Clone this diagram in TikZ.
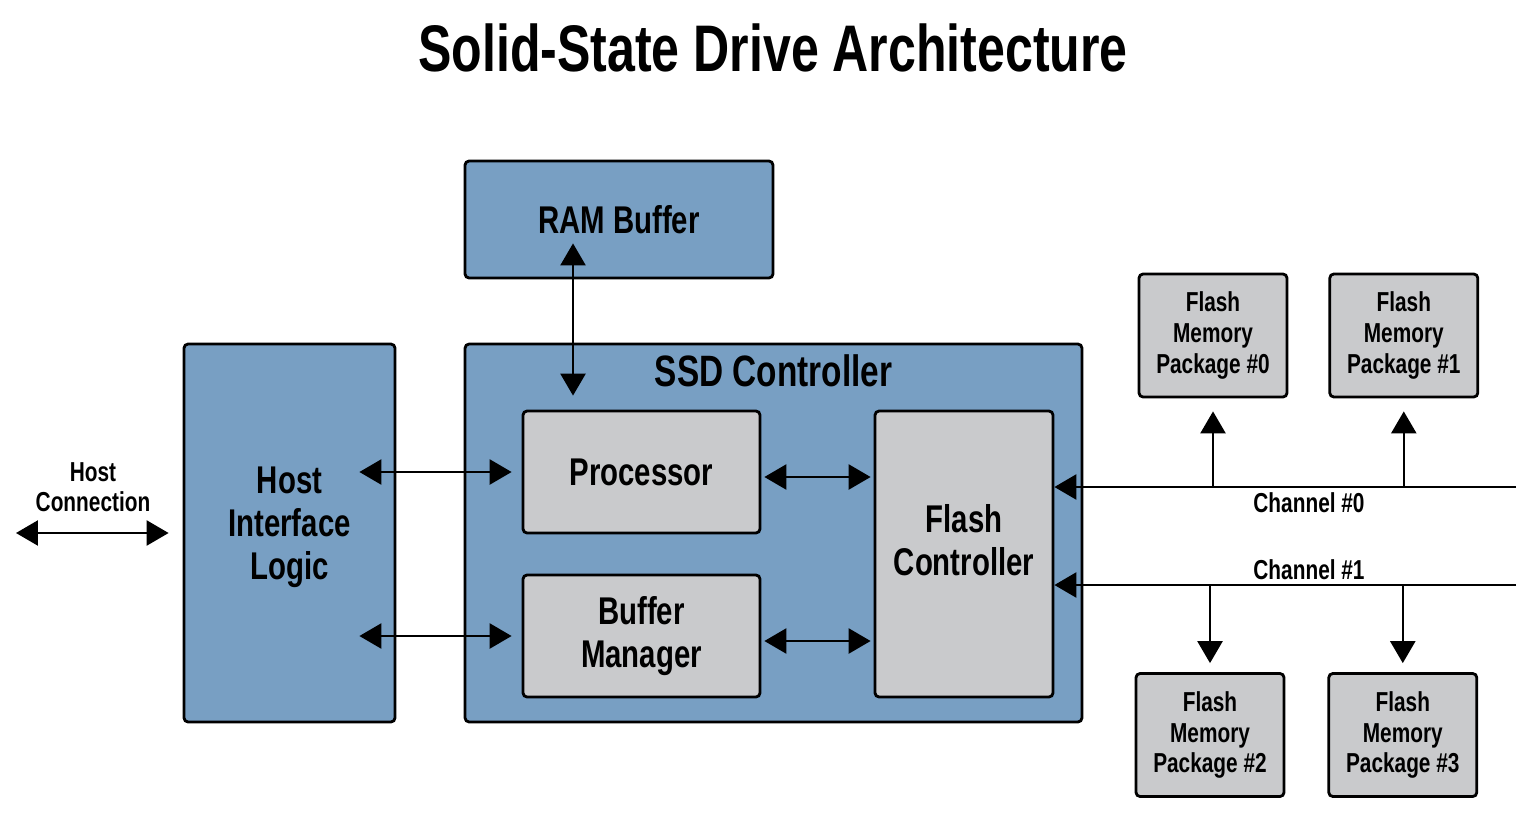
\documentclass[tikz,border=0pt]{standalone}
\usepackage{fontspec}
\newfontfamily\ssdfont{Liberation Sans}[FakeStretch=0.76]
\usetikzlibrary{positioning,arrows.meta}
\definecolor{ssdblue}{HTML}{789FC3}
\definecolor{ssdgray}{HTML}{C9CACC}
\newcommand{\fsz}[2]{\fontsize{#1}{#2}\selectfont}

\begin{document}
\begin{tikzpicture}[
        x=0.02cm, y=-0.02cm,
        every node/.style={font=\ssdfont\bfseries},
        blk/.style={
                draw=black,
                line width=1.6pt,
                rounded corners=0.08cm,
                inner sep=0pt,
                align=center
            },
        bluebox/.style={blk, fill=ssdblue},
        graybox/.style={blk, fill=ssdgray},
        pkg/.style={graybox, minimum width=2.96cm, minimum height=2.46cm,
                font=\ssdfont\bfseries\fsz{15.6}{17.4}},
        lbl/.style={font=\ssdfont\bfseries\fsz{15.6}{17}, align=center},
        tip/.style={-{Triangle[length=0.44cm,width=0.5cm]}, line width=1.4pt},
        dbl/.style={{Triangle[length=0.44cm,width=0.5cm]}-{Triangle[length=0.44cm,width=0.5cm]}, line width=1.4pt}
    ]
    \useasboundingbox (0,0) rectangle (1530,818);

    \node[font=\ssdfont\bfseries\fsz{37.5}{40}] (title) at (773,48) {Solid-State Drive Architecture};

    % main blocks
    \node[bluebox, minimum width=6.16cm, minimum height=2.34cm, font=\ssdfont\bfseries\fsz{22}{24}] (ram) at (619,219.5) {RAM Buffer};
    \node[bluebox, minimum width=4.22cm, minimum height=7.56cm,
        label={[yshift=0.12cm, align=center, font=\ssdfont\bfseries\fsz{22}{24.4}]center:Host\\Interface\\Logic}] (hil) at (289.5,533) {};
    \node[bluebox, minimum width=12.34cm, minimum height=7.56cm,
        label={[below=0.12cm, font=\ssdfont\bfseries\fsz{25}{27}]north:SSD Controller}] (ssd) at (773.5,533) {};
    \node[graybox, minimum width=4.74cm, minimum height=2.44cm, font=\ssdfont\bfseries\fsz{22}{24}] (proc) at (641.5,472) {Processor};
    \node[graybox, minimum width=4.74cm, minimum height=2.44cm, font=\ssdfont\bfseries\fsz{22}{24.4}] (bufm) at (641.5,636) {Buffer\\Manager};
    \node[graybox, minimum width=3.56cm, minimum height=5.72cm,
        label={[yshift=0.28cm, align=center, font=\ssdfont\bfseries\fsz{22}{24.4}]center:Flash\\Controller}] (fc) at (964,554) {};

    % flash packages
    \node[pkg] (fmp0) at (1213,335.5) {Flash\\Memory\\Package \#0};
    \node[pkg] (fmp1) [right=0.80cm of fmp0] {Flash\\Memory\\Package \#1};
    \node[pkg] (fmp2) at (1210,735) {Flash\\Memory\\Package \#2};
    \node[pkg] (fmp3) [right=0.84cm of fmp2] {Flash\\Memory\\Package \#3};

    % host side
    \coordinate (host) at (16,533);
    \node[lbl] (hostlbl) at (93,487.5) {Host\\Connection};
    \draw[dbl, shorten >=0.28cm] (host) -- (host -| hil.west);
    \draw[dbl, shorten <=-0.74cm, shorten >=0.2cm] (hil.east |- proc.west) -- (proc.west);
    \draw[dbl, shorten <=-0.74cm, shorten >=0.2cm] (hil.east |- bufm.west) -- (bufm.west);

    % inside the controller
    \draw[dbl, shorten <=0.06cm, shorten >=0.06cm] ([yshift=-0.1cm]proc.east) -- ([yshift=-0.1cm]proc.east -| fc.west);
    \draw[dbl, shorten <=0.06cm, shorten >=0.06cm] ([yshift=-0.1cm]bufm.east) -- ([yshift=-0.1cm]bufm.east -| fc.west);
    \draw[dbl, shorten <=-0.72cm, shorten >=0.28cm] ([xshift=-0.92cm]ram.south) -- ([xshift=-0.92cm]ram.south |- proc.north);

    % channels
    \coordinate (ch0) at (1516,487);
    \coordinate (ch1) at (1516,585);
    \draw[tip] (ch0) -- (ch0 -| fc.east);
    \draw[tip] (ch1) -- (ch1 -| fc.east);
    \node[lbl] (ch0lbl) at (1309,503) {Channel \#0};
    \node[lbl] (ch1lbl) at (1309,570) {Channel \#1};
    \draw[tip, shorten >=0.26cm] (fmp0 |- ch0) -- (fmp0.south);
    \draw[tip, shorten >=0.26cm] (fmp1 |- ch0) -- (fmp1.south);
    \draw[tip, shorten >=0.18cm] (fmp2 |- ch1) -- (fmp2.north);
    \draw[tip, shorten >=0.18cm] (fmp3 |- ch1) -- (fmp3.north);
\end{tikzpicture}
\end{document}
